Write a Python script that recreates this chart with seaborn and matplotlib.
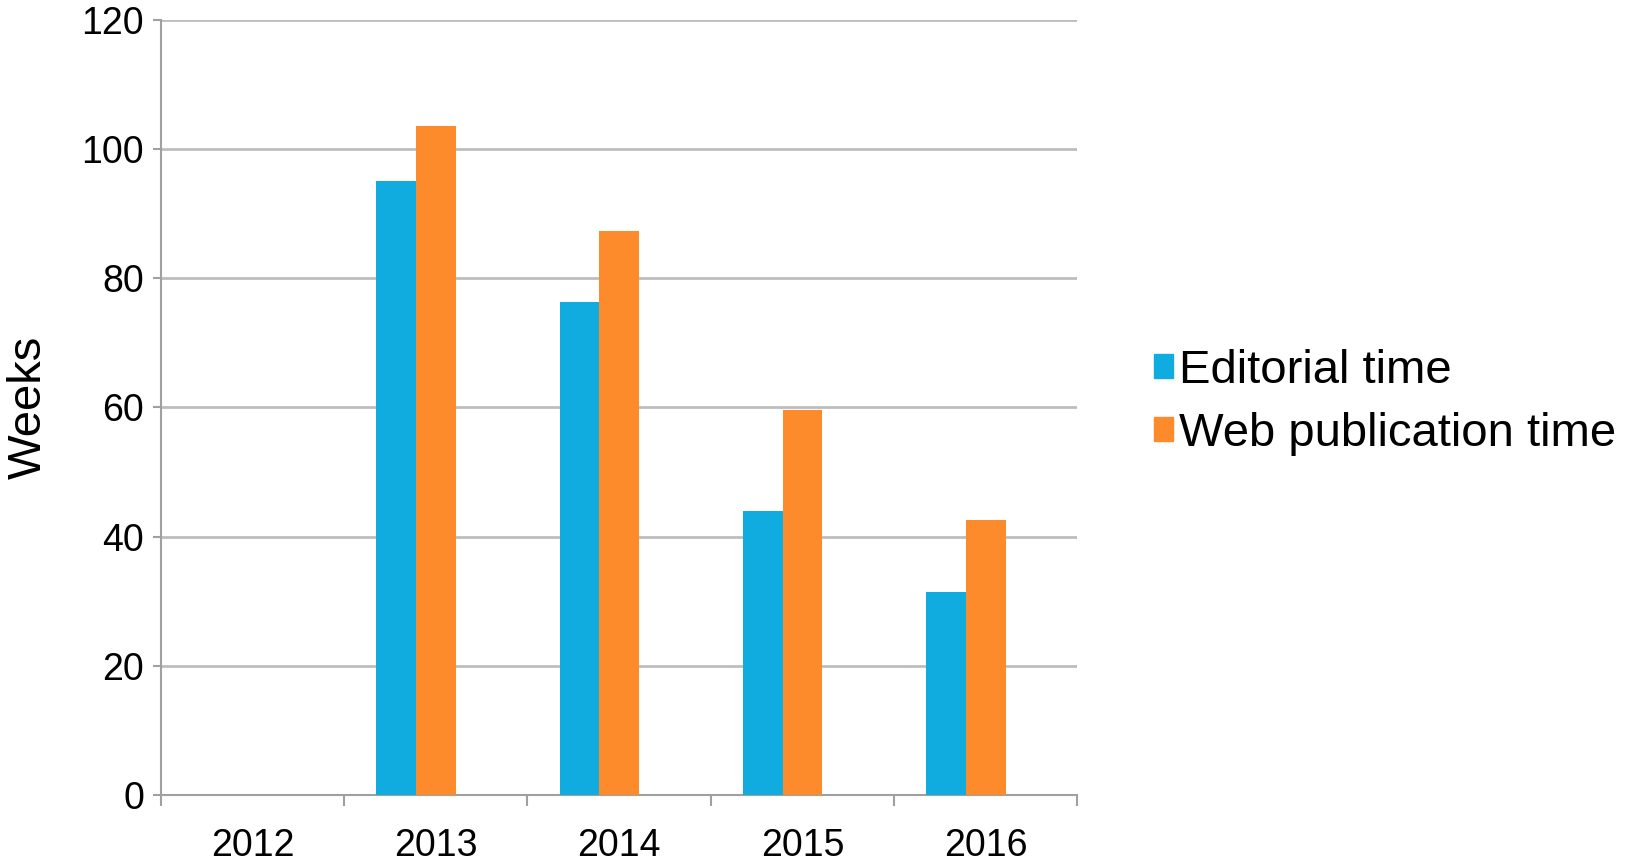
import numpy as np
import pandas as pd
import matplotlib
matplotlib.use("Agg")
import matplotlib.pyplot as plt
from matplotlib.patches import Patch
from matplotlib.ticker import FixedLocator
import seaborn as sns

years = ["2012", "2013", "2014", "2015", "2016"]
editorial = [np.nan, 95.1, 76.3, 43.9, 31.4]
web = [np.nan, 103.5, 87.3, 59.6, 42.6]
series = ["Editorial time", "Web publication time"]
colors = ["#10acdf", "#fd8b2b"]
yticks = [0, 20, 40, 60, 80, 100, 120]

df = pd.DataFrame({
    "year": years * 2,
    "weeks": editorial + web,
    "series": [series[0]] * len(years) + [series[1]] * len(years),
}).dropna()

sns.set_style("white")
plt.rcParams["font.family"] = ["Liberation Sans", "DejaVu Sans"]
plt.rcParams["text.color"] = "black"
plt.rcParams["xtick.labelcolor"] = "black"
plt.rcParams["ytick.labelcolor"] = "black"
plt.rcParams["axes.labelcolor"] = "black"

fig = plt.figure(figsize=(16.25, 8.66), dpi=100)
ax = fig.add_axes([0.099, 0.082, 0.564, 0.895])

# third (empty) hue level keeps the bars shifted left like the original
hue_order = series + [" "]
pal = {series[0]: colors[0], series[1]: colors[1], " ": "white"}
sns.barplot(data=df, x="year", y="weeks", hue="series", order=years,
            hue_order=hue_order, palette=pal, width=0.65, saturation=1,
            errorbar=None, linewidth=0, legend=False, ax=ax, zorder=3)

ax.set_xlim(-0.5, 4.5)
ax.set_ylim(0, 120)
ax.set_yticks(yticks)
ax.yaxis.grid(True, color="#bdbdbd", linewidth=2, zorder=0)
ax.set_axisbelow(True)
ax.xaxis.set_minor_locator(FixedLocator(np.arange(-0.5, 5, 1)))
ax.tick_params(axis="x", which="major", length=0, labelsize=27, pad=24)
ax.tick_params(axis="x", which="minor", length=8, width=1.5, color="#a0a0a0",
               direction="out", bottom=True)
ax.tick_params(axis="y", length=6, width=1.5, color="#a0a0a0", labelsize=27,
               pad=6, left=True)
for s in ["top", "right"]:
    ax.spines[s].set_visible(False)
for s in ["left", "bottom"]:
    ax.spines[s].set_color("#a0a0a0")
    ax.spines[s].set_linewidth(1.5)
ax.set_xlabel("")
ax.set_ylabel("Weeks", fontsize=34)
ax.yaxis.set_label_coords(-0.12, 0.5)

handles = [Patch(color=c) for c in colors]
fig.legend(handles, series, loc="center left", bbox_to_anchor=(0.6985, 0.535),
           frameon=False, fontsize=34, handlelength=0.4, handleheight=0.4,
           handletextpad=0.12, labelspacing=0.4, borderaxespad=0)

fig.savefig("out.png", dpi=100)
